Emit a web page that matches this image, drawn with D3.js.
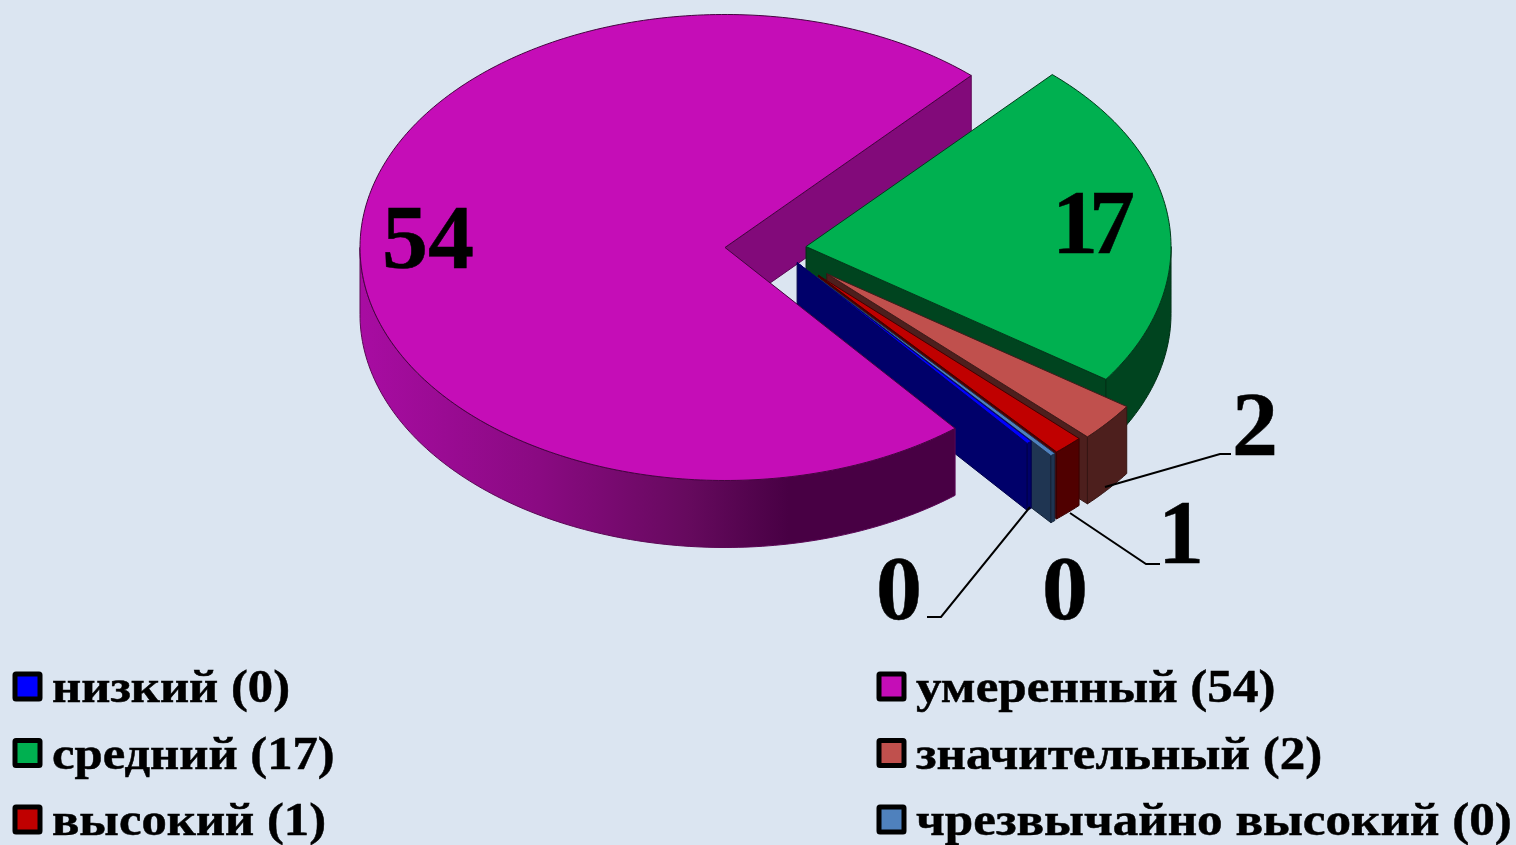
<!DOCTYPE html>
<html>
<head>
<meta charset="utf-8">
<script src="https://cdn.jsdelivr.net/npm/d3@7"></script>
<style>
  body { margin: 0; background: #dbe5f1; overflow: hidden; }
  text { font-family: "Liberation Serif", serif; font-weight: bold; fill: #000; stroke: #000; stroke-width: 0.5; }
</style>
</head>
<body>
<div id="chart"></div>
<script>
const categories = ['низкий', 'умеренный', 'средний', 'значительный', 'высокий', 'чрезвычайно высокий'];
const values = [0, 54, 17, 2, 1, 0];
const topColors = ['#0000ff', '#c50db7', '#00b050', '#c0504d', '#c00000', '#4f81bd'];
const wallColors = ['#00006a', '#820a7a', '#00441f', '#4d1f1d', '#500000', '#1f3552'];
const explode = [0.078, 0.148, 0.0745, 0.17, 0.158, 0.16];
const drawOrder = [2, 3, 4, 5, 0, 1];

const width = 1516;
const height = 845;
const pivot = {x: 779, y: 248.5};
const rx = 365;
const ry = 233;
const depth = 67;
const firstAngle = 140.1 * Math.PI / 180;
// zero values still get a sliver in the picture
const zeroShare = 0.17;

const svg = d3.select('#chart')
    .append('svg')
    .attr('width', width)
    .attr('height', height);

const defs = svg.append('defs');
const sideGrad = defs.append('linearGradient')
    .attr('id', 'side1')
    .attr('gradientUnits', 'userSpaceOnUse')
    .attr('x1', 360).attr('x2', 955).attr('y1', 0).attr('y2', 0);
[[0, '#a80ca2'], [0.3, '#8a0a82'], [0.55, '#660a5e'], [0.72, '#480044'], [1, '#480044']].forEach(s => {
    sideGrad.append('stop').attr('offset', s[0]).attr('stop-color', s[1]);
});

const slices = d3.pie()
    .sort(null)
    .value(d => d || zeroShare)
    .startAngle(firstAngle)
    .endAngle(firstAngle + 2 * Math.PI)(values);

const sx = d3.scaleLinear().domain([-1, 1]).range([-rx, rx]);
const sy = d3.scaleLinear().domain([-1, 1]).range([ry, -ry]);
const line = d3.line().x(d => d[0]).y(d => d[1]);

// point on the rim for a clockwise angle measured from 12 o'clock
const rim = (a, c, dy = 0) => [c.x + sx(Math.sin(a)), c.y + sy(Math.cos(a)) + dy];
const sweep = (a0, a1) => {
    const n = Math.max(2, Math.ceil((a1 - a0) * 60));
    return d3.range(n + 1).map(i => a0 + (a1 - a0) * i / n);
};

// the big slice's cut face sits behind the green slice, its top does not
const back = svg.append('g');
const g = svg.append('g');

drawOrder.forEach(i => {
    const s = slices[i];
    const turn = s.startAngle >= 2 * Math.PI ? 2 * Math.PI : 0;
    const start = s.startAngle - turn;
    const end = s.endAngle - turn;
    const mid = (start + end) / 2;
    const c = {
        x: pivot.x + sx(Math.sin(mid)) * explode[i],
        y: pivot.y + sy(Math.cos(mid)) * explode[i]
    };
    const wall = wallColors[i];
    const edge = d3.rgb(wall).darker(1);

    // cut face at the end of the slice
    const e = rim(end, c);
    (i === 1 ? back : g).append('path')
        .attr('d', line([[c.x, c.y], e, [e[0], e[1] + depth], [c.x, c.y + depth]]) + 'Z')
        .attr('fill', wall)
        .attr('stroke', edge);

    // outer face, only the part turned to the viewer
    const a0 = Math.max(start, Math.PI / 2);
    const a1 = Math.min(end, 1.5 * Math.PI);
    if (a1 > a0) {
        const top = sweep(a0, a1).map(a => rim(a, c));
        const bottom = sweep(a0, a1).reverse().map(a => rim(a, c, depth));
        g.append('path')
            .attr('d', line(top.concat(bottom)) + 'Z')
            .attr('fill', i === 1 ? 'url(#side1)' : wall)
            .attr('stroke', edge);
    }

    // top face
    const arcPts = sweep(start, end).map(a => rim(a, c));
    g.append('path')
        .attr('d', line([[c.x, c.y]].concat(arcPts)) + 'Z')
        .attr('fill', topColors[i])
        .attr('stroke', values[i] === 0 ? wall : d3.rgb(topColors[i]).darker(3));
});

// value labels and leader lines
const labelValues = [54, 17, 2, 1, 0, 0];
const labelX = [428, 1089, 1255, 1181, 1065, 899];
const labelY = [268, 253, 455, 563, 619, 619];
const labelSpacing = [0, -9, 0, 0, 0, 0];
svg.append('g').selectAll('text')
    .data(labelValues)
    .join('text')
    .attr('x', (d, i) => labelX[i])
    .attr('y', (d, i) => labelY[i])
    .attr('text-anchor', 'middle')
    .attr('font-size', 92)
    .attr('letter-spacing', (d, i) => labelSpacing[i])
    .text(d => d);

const leaders = [
    [[1105, 487], [1220, 454], [1231, 454]],
    [[1070, 513], [1146, 564], [1160, 564]],
    [[1030, 507], [941, 617], [927, 617]]
];
svg.append('g').selectAll('path')
    .data(leaders)
    .join('path')
    .attr('d', d => line(d))
    .attr('fill', 'none')
    .attr('stroke', '#000')
    .attr('stroke-width', 2);

// legend
const legendOrder = [0, 2, 4, 1, 3, 5];
const legendX = d3.scaleOrdinal().domain([0, 1]).range([15, 879]);
const legendY = d3.scalePoint().domain([0, 1, 2]).range([686, 819]);
const legendStretch = [1.078, 1.087];
const legend = svg.append('g').selectAll('g')
    .data(legendOrder)
    .join('g')
    .attr('transform', (d, i) => `translate(${legendX(Math.floor(i / 3))},${legendY(i % 3)})`);
legend.append('rect')
    .attr('x', 0).attr('y', -12)
    .attr('width', 25).attr('height', 25)
    .attr('rx', 1)
    .attr('fill', d => topColors[d])
    .attr('stroke', '#000')
    .attr('stroke-width', 5);
legend.append('text')
    .attr('transform', (d, i) => `translate(37,16) scale(${legendStretch[Math.floor(i / 3)]},1)`)
    .attr('font-size', 47)
    .text(d => `${categories[d]} (${values[d]})`);
</script>
</body>
</html>
